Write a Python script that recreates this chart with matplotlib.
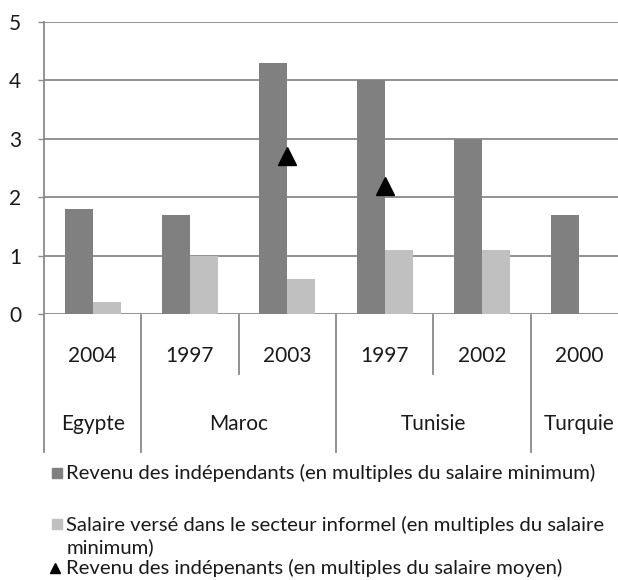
import numpy as np
import matplotlib.pyplot as plt
from matplotlib.lines import Line2D
from matplotlib.transforms import blended_transform_factory

plt.rcParams['font.family'] = ['Lato', 'DejaVu Sans']

years = ['2004', '1997', '2003', '1997', '2002', '2000']
countries = ['Egypte', 'Maroc', 'Tunisie', 'Turquie']
country_span = [1, 2, 2, 1]
revenu_smin = [1.8, 1.7, 4.3, 4.0, 3.0, 1.7]
salaire_informel = [0.2, 1.0, 0.6, 1.1, 1.1, np.nan]
revenu_smoy = [np.nan, np.nan, 2.7, 2.2, np.nan, np.nan]

dark = '#808080'
light = '#c0c0c0'
grid = '#898989'
txt = '#1a1a1a'
fs = 15

W, H = 618, 580
fig = plt.figure(figsize=(W / 100, H / 100), dpi=100)
ax = fig.add_axes([44 / W, 1 - 314 / H, 584 / W, 292 / H])

x = np.arange(len(years))
w = 0.2875
ax.bar(x, revenu_smin, width=-w, align='edge', color=dark, zorder=3)
ax.bar(x, salaire_informel, width=w, align='edge', color=light, zorder=3)
ax.plot(x, revenu_smoy, linestyle='none', marker='^', markersize=13,
        color='black', zorder=4)

ax.set_xlim(-0.5, len(years) - 0.5)
ax.set_ylim(0, 5)
ax.set_yticks(range(6))
ax.yaxis.grid(True, color=grid, linewidth=1.3, zorder=0)
ax.tick_params(axis='y', length=4.5, width=1, color=grid, pad=12,
               labelsize=fs, labelcolor=txt)
ax.set_xticks([])
for s in ['top', 'right', 'bottom']:
    ax.spines[s].set_visible(False)
ax.spines['left'].set_color(grid)
ax.spines['left'].set_linewidth(1.3)

# two-level category axis below the bars
tr = blended_transform_factory(ax.transData, ax.transAxes)
edges = [0]
for n in country_span:
    edges.append(edges[-1] + n)
for i in range(len(years) + 1):
    xe = i - 0.5
    y_end = -0.473 if i in edges else -0.205
    ax.add_artist(Line2D([xe, xe], [-0.005, y_end], transform=tr, color=grid,
                         linewidth=1.3, clip_on=False))
for i, yr in enumerate(years):
    ax.text(i, -0.163, yr, transform=tr, ha='center', va='baseline',
            fontsize=fs, color=txt)
for k, c in enumerate(countries):
    xc = (edges[k] + edges[k + 1] - 1) / 2
    ax.text(xc, -0.397, c, transform=tr, ha='center', va='baseline',
            fontsize=fs, color=txt)

# legend
lfs = 14.6
tx = 66.5 / W
fig.add_artist(Line2D([57 / W], [1 - 473 / H], marker='s', markersize=7.9,
                      linestyle='none', color=dark, transform=fig.transFigure))
fig.text(tx, 1 - 479 / H, 'Revenu des indépendants (en multiples du salaire minimum)',
         va='baseline', fontsize=lfs, color=txt)
fig.add_artist(Line2D([57 / W], [1 - 524 / H], marker='s', markersize=7.9,
                      linestyle='none', color=light, transform=fig.transFigure))
fig.text(tx, 1 - 531 / H, 'Salaire versé dans le secteur informel (en multiples du salaire',
         va='baseline', fontsize=lfs, color=txt)
fig.text(tx, 1 - 553 / H, 'minimum)', va='baseline', fontsize=lfs, color=txt)
fig.add_artist(Line2D([55 / W], [1 - 568 / H], marker='^', markersize=7,
                      linestyle='none', color='black', transform=fig.transFigure))
fig.text(tx, 1 - 574 / H, 'Revenu des indépenants (en multiples du salaire moyen)',
         va='baseline', fontsize=lfs, color=txt)

fig.savefig('out.png', dpi=100)
